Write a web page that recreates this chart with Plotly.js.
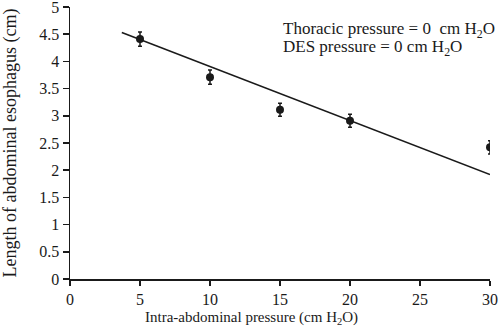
<!DOCTYPE html>
<html>
<head>
<meta charset="utf-8">
<script src="https://cdn.plot.ly/plotly-3.0.1.min.js"></script>
<style>html,body{margin:0;padding:0;background:#fff;}#chart{width:500px;height:330px;}</style>
</head>
<body>
<div id="chart"></div>
<script>
// Data
var pressure = [5, 10, 15, 20, 30];
var length = [4.41, 3.71, 3.11, 2.91, 2.42];
var errors = [0.13, 0.13, 0.12, 0.12, 0.12];
var fitX = [3.7, 30];
var fitY = [4.53, 1.92];
var xTicks = [0, 5, 10, 15, 20, 25, 30];
var yTicks = [0, 0.5, 1, 1.5, 2, 2.5, 3, 3.5, 4, 4.5, 5];
var noteLines = ['Thoracic pressure = 0  cm H<sub>2</sub>O', 'DES pressure = 0 cm H<sub>2</sub>O'];
var xTitle = 'Intra-abdominal pressure (cm H<sub>2</sub>O)';
var yTitle = 'Length of abdominal esophagus (cm)';

var font = '"Liberation Serif", "Times New Roman", serif';
var ink = '#1a1a1a';

var traces = [
  {
    x: fitX, y: fitY, mode: 'lines', type: 'scatter',
    line: {color: ink, width: 1.6}, hoverinfo: 'skip', showlegend: false
  },
  {
    x: pressure, y: length, mode: 'markers', type: 'scatter',
    marker: {color: ink, size: 8},
    error_y: {type: 'data', array: errors, visible: true, color: ink, thickness: 1.5, width: 2},
    showlegend: false
  }
];

var layout = {
  width: 500, height: 330,
  margin: {l: 70, r: 10, t: 7, b: 51},
  paper_bgcolor: '#fff', plot_bgcolor: '#fff',
  font: {family: font, size: 16, color: ink},
  showlegend: false,
  xaxis: {
    range: [0, 30], tickvals: xTicks, ticktext: xTicks.map(String),
    showgrid: false, zeroline: false, showline: true, linecolor: ink, linewidth: 2,
    ticks: 'outside', ticklen: 5, tickwidth: 1.5, tickcolor: ink,
    tickfont: {family: font, size: 16, color: ink}, ticklabeloverflow: 'allow'
  },
  yaxis: {
    range: [0, 5], tickvals: yTicks, ticktext: yTicks.map(String),
    showgrid: false, zeroline: false, showline: true, linecolor: ink, linewidth: 1.5,
    ticks: 'outside', ticklen: 6, tickwidth: 1.5, tickcolor: ink,
    tickfont: {family: font, size: 16, color: ink}, ticklabeloverflow: 'allow',
    title: {text: yTitle, font: {family: font, size: 18, color: ink}, standoff: 23}
  },
  annotations: [
    {xref: 'x', yref: 'y', x: 15.1, y: 4.575, xanchor: 'left', yanchor: 'middle', showarrow: false,
     text: noteLines[0], font: {family: font, size: 17, color: ink}},
    {xref: 'x', yref: 'y', x: 15.1, y: 4.24, xanchor: 'left', yanchor: 'middle', showarrow: false,
     text: noteLines[1], font: {family: font, size: 17, color: ink}},
    {xref: 'paper', yref: 'paper', x: 0.432, y: -0.144, xanchor: 'center', yanchor: 'middle', showarrow: false,
     text: xTitle, font: {family: font, size: 15, color: ink}}
  ]
};

Plotly.newPlot('chart', traces, layout, {displayModeBar: false, staticPlot: true});
</script>
</body>
</html>
